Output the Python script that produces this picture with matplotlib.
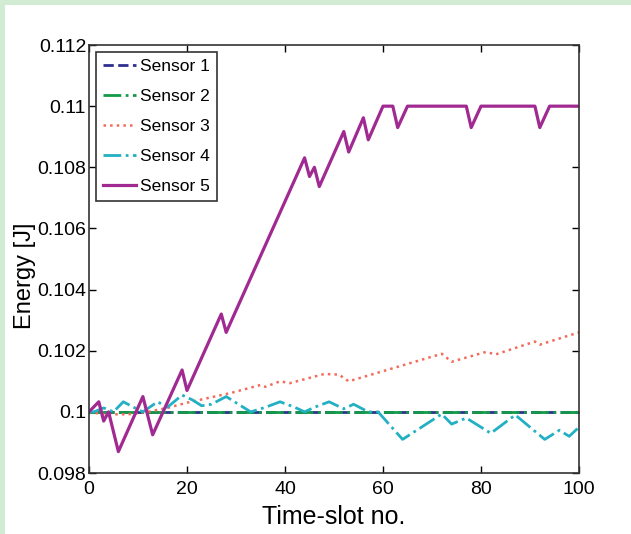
import matplotlib.pyplot as plt
from matplotlib.patches import Rectangle

plt.rcParams['font.family'] = ['Liberation Sans', 'DejaVu Sans']

labels = ['Sensor 1', 'Sensor 2', 'Sensor 3', 'Sensor 4', 'Sensor 5']
colors = ['#2e2f8f', '#139a48', '#f26b5b', '#22b0c2', '#a12a92']

# sensors 1 and 2 stay flat
t1 = [0, 100]
e1 = [0.1, 0.1]
t2 = [0, 100]
e2 = [0.1, 0.1]

# sensor 3 (vertices)
t3 = [0, 3, 8, 12, 16, 20, 29, 35, 36, 39, 41, 48, 51, 53, 72, 74, 81, 83, 91, 92, 100]
e3 = [0.1, 0.09992, 0.09992, 0.1, 0.10013, 0.1003, 0.10062, 0.10088, 0.10082,
      0.101, 0.10094, 0.10124, 0.10122, 0.101, 0.1019, 0.10164, 0.10196, 0.10188,
      0.1023, 0.1022, 0.1026]

# sensor 4
t4 = [0, 1, 3, 5, 7, 9, 11, 14, 16, 19, 21, 23, 25, 28, 31, 33, 36, 39, 42, 44,
      46, 49, 52, 54, 57, 59, 64, 72, 74, 77, 82, 87, 93, 96, 98, 100]
e4 = [0.1, 0.1, 0.10013, 0.1, 0.10033, 0.10016, 0.1, 0.10033, 0.10015, 0.10055,
      0.1004, 0.1002, 0.10025, 0.1005, 0.1002, 0.1, 0.10015, 0.10033, 0.10015, 0.1,
      0.10015, 0.10033, 0.1001, 0.10025, 0.1, 0.1, 0.0991, 0.09993, 0.0996, 0.0998,
      0.0993, 0.0999, 0.0991, 0.0994, 0.0992, 0.0995]

# sensor 5
t5 = [0, 2, 3, 4, 6, 11, 13, 19, 20, 27, 28, 44, 45, 46, 47, 52, 53, 56, 57, 60,
      62, 63, 65, 77, 78, 80, 91, 92, 94, 100]
e5 = [0.1, 0.10033, 0.0997, 0.1, 0.0987, 0.1005, 0.09925, 0.10137, 0.1007, 0.1032,
      0.1026, 0.10831, 0.1077, 0.108, 0.10737, 0.10917, 0.1085, 0.10962, 0.1089, 0.11,
      0.11, 0.1093, 0.11, 0.11, 0.1093, 0.11, 0.11, 0.1093, 0.11, 0.11]

xticks = [0, 20, 40, 60, 80, 100]
yticks = [0.098, 0.1, 0.102, 0.104, 0.106, 0.108, 0.11, 0.112]
yticklabels = ['0.098', '0.1', '0.102', '0.104', '0.106', '0.108', '0.11', '0.112']

fig = plt.figure(figsize=(6.31, 5.34), dpi=100)
fig.patch.set_facecolor('#d2ebd3')
fig.patches.append(Rectangle((5 / 631, 0), 1, 1 - 5 / 534, transform=fig.transFigure,
                             facecolor='white', edgecolor='none', zorder=-10))

ax = fig.add_axes([0.141, 0.1142, 0.7766, 0.8015])
ax.plot(t1, e1, '--', color=colors[0], lw=2, label=labels[0])
ax.plot(t2, e2, '-.', color=colors[1], lw=2, label=labels[1])
ax.plot(t3, e3, ':', color=colors[2], lw=1.8, label=labels[2])
ax.plot(t4, e4, '-.', color=colors[3], lw=2, label=labels[3])
ax.plot(t5, e5, '-', color=colors[4], lw=2.3, label=labels[4])

ax.set_xlim(0, 100)
ax.set_ylim(0.098, 0.112)
ax.set_xticks(xticks)
ax.set_yticks(yticks)
ax.set_yticklabels(yticklabels)
ax.tick_params(direction='in', top=True, right=True, labelsize=14, length=5, width=1)
ax.tick_params(axis='y', pad=2)
ax.tick_params(axis='x', pad=6)
for s in ax.spines.values():
    s.set_linewidth(1.2)
    s.set_color('#333333')

ax.set_xlabel('Time-slot no.', fontsize=18, labelpad=5)
ax.set_ylabel('Energy [J]', fontsize=17)
ax.yaxis.set_label_coords(-0.108, 0.46)

leg = ax.legend(loc='upper left', fontsize=12.5, fancybox=False, framealpha=1,
                edgecolor='#333333', handlelength=1.9, handletextpad=0.25,
                labelspacing=0.85, borderaxespad=0.4, borderpad=0.4)
leg.get_frame().set_linewidth(1.2)

fig.savefig('out.png', dpi=100, facecolor=fig.get_facecolor())
